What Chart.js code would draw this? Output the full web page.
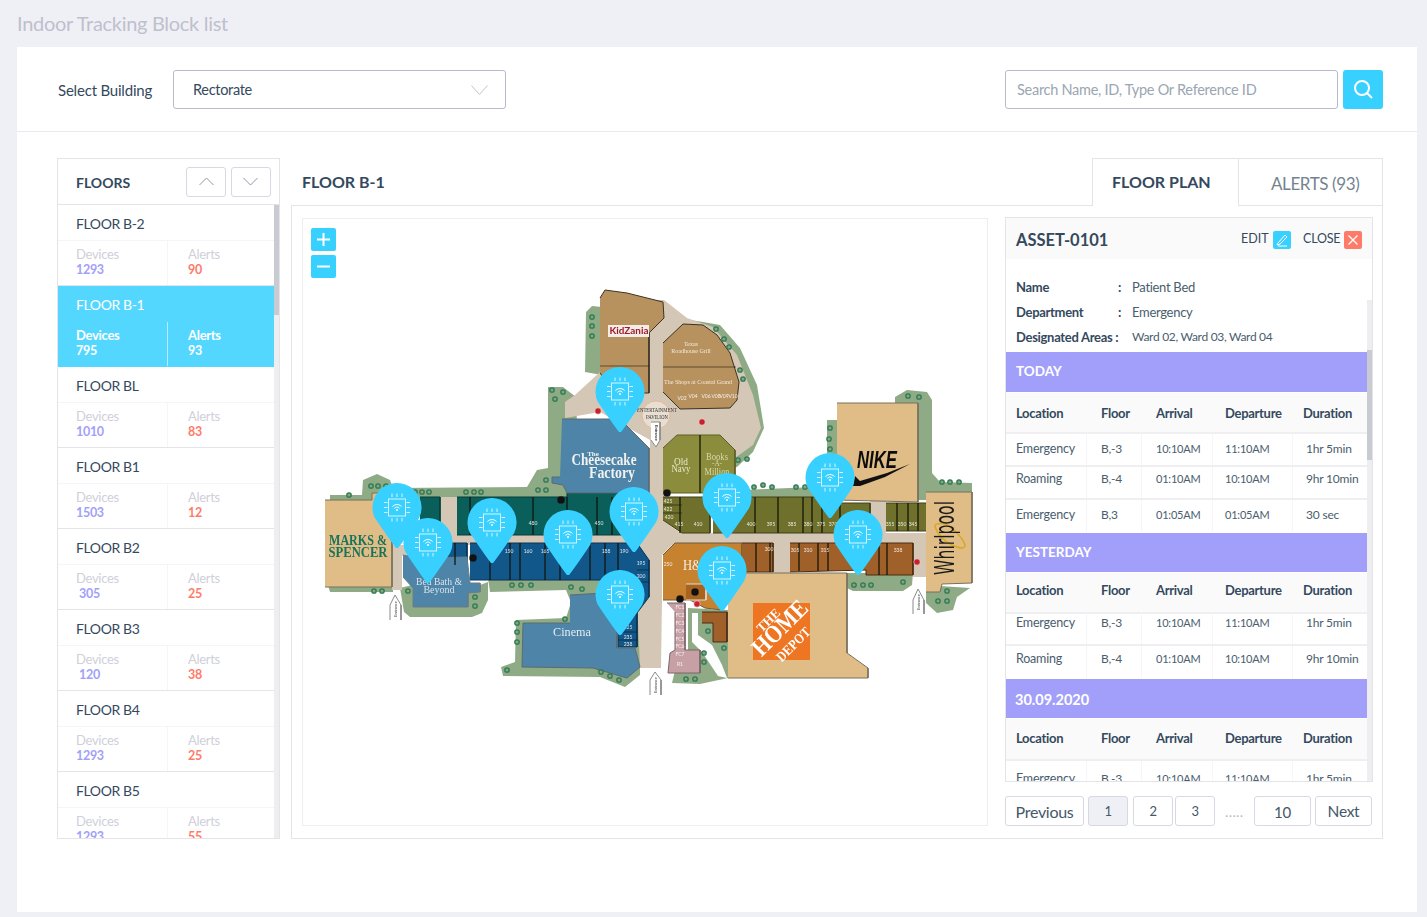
<!DOCTYPE html>
<html><head><meta charset="utf-8">
<script src="https://cdn.jsdelivr.net/npm/chart.js@4"></script>
<style>
html,body{margin:0;padding:0;width:1427px;height:917px;overflow:hidden;background:#eff0f5;font-family:Lato,"Noto Sans",sans-serif;color:#34495e}
.b{position:absolute;box-sizing:border-box}
.t{position:absolute;white-space:nowrap;transform:translateY(-50%);line-height:1}
#clipL,#clipR{position:absolute;overflow:hidden}
svg{position:absolute;overflow:visible}
canvas{filter:blur(.3px)}
</style></head><body>
<div id="root"></div>
<script>
/* ---------- page content ---------- */
const floorNames=["FLOOR B-2","FLOOR B-1","FLOOR BL","FLOOR B1","FLOOR B2","FLOOR B3","FLOOR B4","FLOOR B5"];
const floorDevices=[1293,795,1010,1503,305,120,1293,1293];
const floorAlerts=[90,93,83,12,25,38,25,55];
const tableHead=["Location","Floor","Arrival","Departure","Duration"];
const todayRows=[["Emergency","B,-3","10:10AM","11:10AM","1hr 5min"],["Roaming","B,-4","01:10AM","10:10AM","9hr 10min"],["Emergency","B,3","01:05AM","01:05AM","30 sec"]];
const yesterdayRows=[["Emergency","B,-3","10:10AM","11:10AM","1hr 5min"],["Roaming","B,-4","01:10AM","10:10AM","9hr 10min"]];
const olderRows=[["Emergency","B,-3","10:10AM","11:10AM","1hr 5min"]];

/* ---------- map: pins, trees, markers ---------- */
const pinTipX=[620,397,428,492,568,634,620,727,830,858,722];
const pinTipY=[432,548,583,563,575,552,635,538,518,575,611];
const treeX=[349,371,378,386,415,422,429,466,474,481,546,538,546,552,563,555,592,592,592,374,382,408,475,475,512,521,531,571,582,565,517,517,517,507,601,610,619,908,919,830,829,830,942,950,959,738,747,754,763,772,796,805,947,938,947,854,863,871,903,708,724,704,704,686,695,716,724,729,740,743];
const treeY=[495,486,486,486,492,492,492,492,492,492,480,490,490,390,392,399,317,326,336,591,591,591,597,606,585,585,585,587,589,619,623,632,642,670,672,676,680,396,397,428,439,449,482,482,482,460,459,487,485,487,487,487,591,601,601,585,585,585,582,631,648,653,662,679,679,329,339,347,370,379];
const redX=[598,702,917,697];
const redY=[411,422,562,604];
const blackX=[667,680,561,473,695];
const blackY=[493,599,500,558,592];
const plazaX=[656];
const plazaY=[415];

/* ---------- map: regions, painted first to last ---------- */
const TAN='#d5c7b5',GRN='#8fab85',SAND='#e0bc86',BLUE='#4d84a8',OLV='#6e702c',BRN='#a0602a',EDGE='#77705f';
const greenLeft=[[330,495],[362,495],[363,480],[377,474],[390,480],[393,488],[527,487],[537,470],[548,468],[548,387],[563,387],[576,397],[580,505],[330,505]];
const greenMarks=[[328,585],[393,585],[393,592],[330,592]];
const greenKid=[[585,372],[586,312],[592,306],[602,307],[602,375]];
const greenCrescent=[[690,320],[703,322],[720,325],[740,348],[757,385],[764,428],[753,452],[737,467],[715,470],[690,440]];
const greenBed=[[400,588],[412,585],[480,585],[488,582],[488,600],[482,613],[472,617],[410,617],[404,612]];
const greenUnder=[[488,578],[640,578],[640,600],[600,610],[570,600],[566,590],[490,592]];
const greenCinema=[[575,590],[640,590],[640,675],[625,687],[600,677],[503,676],[501,667],[515,662],[516,620],[566,618]];
const greenNikeL=[[827,420],[838,420],[838,458],[827,458]];
const greenTop=[[742,490],[837,486],[930,490],[930,500],[742,500]];
const greenNikeR=[[895,397],[907,390],[927,392],[932,400],[932,473],[940,482],[972,483],[972,494],[895,494]];
const greenWhirl=[[926,590],[940,586],[970,588],[957,597],[953,610],[937,613],[926,603]];
const greenBrown=[[847,573],[913,573],[912,585],[903,591],[853,591],[847,588]];
const greenDepot=[[688,608],[728,610],[728,678],[700,684],[672,683],[680,650],[688,650]];
const whiteRoad=[[692,613],[698,613],[698,635],[712,645],[722,665],[727,678],[718,676],[702,652],[692,642]];
const tanMain=[[565,402],[575,395],[600,372],[600,300],[664,300],[687,318],[713,327],[737,355],[753,395],[761,428],[753,445],[735,458],[722,468],[666,468],[663,520],[680,533],[926,533],[926,577],[913,577],[913,545],[672,545],[662,555],[662,600],[661,668],[640,668],[637,600],[635,545],[392,545],[392,590],[402,590],[402,556],[440,545],[440,497],[457,497],[457,534],[620,534],[650,520],[650,440],[600,412],[565,418]];
const tanGap=[[870,497],[886,497],[886,534],[870,534]];
const tanGapB=[[773,544],[790,544],[790,576],[773,576]];
const marks=[[325,500],[372,500],[372,493],[392,493],[392,587],[325,587]];
const tealA=[[420,497],[440,497],[440,535],[420,535]];
const tealB=[[457,497],[567,497],[567,493],[640,493],[650,500],[650,520],[635,535],[457,535]];
const blueA=[[443,543],[467,543],[467,565],[443,565]];
const blueB=[[470,543],[637,543],[649,560],[649,597],[637,613],[637,647],[618,647],[618,580],[470,580]];
const cheesecake=[[562,419],[620,419],[649,448],[649,493],[567,493],[563,485],[552,483],[552,477],[560,477]];
const bedBath=[[403,555],[423,558],[467,557],[470,583],[480,583],[480,592],[468,593],[468,607],[413,607],[413,588],[403,577]];
const cinema=[[570,595],[620,592],[617,632],[617,648],[635,648],[640,667],[627,678],[593,668],[522,667],[523,623],[570,623]];
const kidzania=[[600,298],[605,290],[627,293],[663,302],[664,318],[649,333],[649,393],[615,393],[600,373]];
const shops=[[663,343],[683,324],[703,325],[717,335],[730,353],[739,382],[737,400],[730,408],[680,409],[663,392]];
const navy=[[663,448],[677,435],[720,435],[735,450],[735,493],[663,493]];
const oliveA=[[663,497],[710,497],[710,533],[682,533],[663,520]];
const oliveB=[[713,497],[840,497],[840,503],[870,503],[870,533],[713,533]];
const oliveC=[[886,503],[927,503],[927,531],[886,531]];
const hm=[[663,555],[675,543],[742,543],[742,572],[730,572],[722,610],[705,608],[690,600],[663,600]];
const brownA=[[742,543],[773,543],[773,572],[742,572]];
const brownB=[[790,543],[913,543],[913,575],[866,575],[866,570],[790,572]];
const brownC=[[702,612],[727,612],[727,642],[713,642],[713,623],[702,623]];
const pinkFood=[[667,603],[685,603],[685,650],[700,650],[700,673],[668,673],[670,653],[675,650],[675,612]];
const depot=[[728,573],[847,573],[847,653],[868,668],[868,678],[728,678]];
const depotLogo=[[753,603],[810,603],[810,660],[753,660]];
const nikeStore=[[837,403],[918,403],[918,502],[837,500]];
const whirl=[[926,492],[972,492],[972,583],[942,584],[940,592],[926,592]];
const kidSign=[[608,325],[649,325],[649,337],[608,337]];
const swoosh=[[855,476],[860,481],[887,473],[910,464],[885,477],[860,486],[853,486]];
const arrowA=[[390,620],[390,605],[395,595],[401,605],[401,620]];
const arrowB=[[913,614],[913,600],[918,589],[924,600],[924,614]];
const arrowC=[[650,695],[650,680],[655,672],[661,680],[661,695]];
const arrowD=[[651,422],[660,422],[660,440],[656,447],[651,440]];
const roomBox=[[686,584],[706,584],[706,600],[686,600]];
const regions=[
 [greenLeft,GRN],[greenMarks,GRN],[greenKid,GRN],[greenCrescent,GRN],[greenBed,GRN],[greenUnder,GRN],[greenCinema,GRN],[greenNikeL,GRN],[greenTop,GRN],[greenNikeR,GRN],[greenWhirl,GRN],[greenBrown,GRN],[greenDepot,GRN],
 [whiteRoad,'#ffffff'],[tanMain,TAN],[tanGap,TAN],[tanGapB,TAN],
 [marks,SAND,EDGE],[tealA,'#0b5f5b','#053f3c'],[tealB,'#0b5f5b','#053f3c'],[blueA,'#12578a','#0a3350'],[blueB,'#12578a','#0a3350'],
 [cheesecake,BLUE,'#5d6a70'],[bedBath,BLUE,'#6b7d85'],[cinema,BLUE,'#5d6a70'],
 [kidzania,'#b8925e','#3a3226'],[shops,'#b8925e','#3a3226'],[navy,'#8b8d3c','#5c5e27'],[oliveA,OLV,'#3e3f18'],[oliveB,OLV,'#3e3f18'],[oliveC,OLV,'#3e3f18'],
 [hm,'#c6822e','#6e5a3c'],[brownA,BRN,'#4a2d12'],[brownB,BRN,'#4a2d12'],[brownC,BRN,'#4a2d12'],[pinkFood,'#c7a0a6','#7d6468'],
 [depot,SAND,EDGE],[depotLogo,'#ee7623'],[nikeStore,SAND,EDGE],[whirl,SAND,EDGE],[kidSign,'#f4ece6'],[swoosh,'#111111'],
 [arrowA,'#ffffff','#8a8a8a'],[arrowB,'#ffffff','#8a8a8a'],[arrowC,'#ffffff','#8a8a8a'],[arrowD,'#ffffff','#8a8a8a'],[roomBox,'#a8641f','#dcdcdc']
];
/* store partition lines: x, yTop, yBottom */
const dividerX=[700,470,533,567,597,612,622,455,490,510,520,545,560,590,605,618,640,755,778,803,812,822,840,897,908,918,799,818,828,879,887,680,756,770];
const dividerTop=[435,497,497,497,497,497,497,543,543,543,543,543,543,543,543,543,497,497,497,497,497,497,497,503,503,503,543,543,543,543,543,497,543,543];
const dividerBottom=[493,535,535,535,535,535,520,565,580,580,580,580,580,580,580,580,520,533,533,533,533,533,533,531,531,531,571,571,571,575,575,533,572,572];
const shelfLines=[[[600,366],[649,366]],[[663,367],[736,367]],[[663,505],[682,505]],[[663,513],[682,513]],[[637,570],[649,570]],[[637,582],[649,582]],[[618,632],[637,632]],[[618,640],[637,640]]];
const whirlpoolRing=[[936,524],[945,524],[957,533],[965,545],[962,548],[952,545],[941,537],[935,527],[936,524]];

/* tiny unit numbers */
const unitText=["480","450","150","160","165","188","190","195","200","225","235","238","425","422","420","415","410","400","395","385","380","375","370","355","350","345","250","300","305","310","315","338","FC1","FC2","FC3","FC4","FC5","FC6","FC7","R1","V02","V04","V06","V08","V09","V10"];
const unitX=[533,599,509,528,545,606,624,641,641,628,628,628,668,668,669,679,698,751,771,792,808,821,833,890,902,913,668,769,795,808,825,898,680,680,680,680,680,680,680,680,682,693,706,716,724,733];
const unitY=[523,523,551,551,551,551,551,563,576,627,637,644,501,509,517,524,524,524,524,524,524,524,524,524,524,524,564,549,550,550,550,550,607,615,623,631,639,646,654,664,398,396,396,396,396,396];

/* ---------- DOM helpers ---------- */
const root=document.getElementById('root');
function box(x,y,w,h,css,parent){const d=document.createElement('div');d.className='b';d.style.cssText=`left:${x}px;top:${y}px;width:${w}px;height:${h}px;${css||''}`;(parent||root).appendChild(d);return d}
function txt(s,x,y,size,css,parent){const d=document.createElement('div');d.className='t';d.textContent=s;d.style.cssText=`left:${x}px;top:${y}px;font-size:${size}px;${css||''}`;(parent||root).appendChild(d);return d}
function svg(x,y,w,h,inner,parent){const n=document.createElementNS('http://www.w3.org/2000/svg','svg');n.setAttribute('width',w);n.setAttribute('height',h);n.setAttribute('viewBox',`0 0 ${w} ${h}`);n.style.left=x+'px';n.style.top=y+'px';n.innerHTML=inner;(parent||root).appendChild(n)}
const DK='#34495e',BD='#e3e3e8',CY='#38d0ff',PU='#a29ffa',ST='letter-spacing:-.3px;';

txt('Indoor Tracking Block list',17,22.5,20,'color:#bfbfce;'+ST);
box(17,47,1400,865,'background:#fff');
box(17,131,1400,1,'background:#e8e8ee');
txt('Select Building',58,89.5,15,'color:'+DK+';letter-spacing:-.2px;');
box(173,70,333,39,'border:1px solid #b9b9cd;border-radius:3px;background:#fff');
txt('Rectorate',193,90,14.5,'color:'+DK+';'+ST);
svg(471,85,17,11,'<path d="M.5 .5L8.5 9.5L16.5 .5" fill="none" stroke="#c4c4d0" stroke-width="1"/>');
box(1005,70,333,39,'border:1px solid #b9b9cd;border-radius:3px;background:#fff');
txt('Search Name, ID, Type Or Reference ID',1017,90,14.5,'color:#9aa6b2;letter-spacing:-.27px;');
box(1343,70,40,39,'background:'+CY+';border-radius:3px');
svg(1353,79,21,21,'<circle cx="9" cy="9" r="7" fill="none" stroke="#fff" stroke-width="2"/><path d="M14 14L19 19" stroke="#fff" stroke-width="2"/>');

/* floors panel */
box(57,158,223,681,'border:1px solid '+BD+';background:#fff');
box(58,204,222,1,'background:'+BD);
txt('FLOORS',76,183,14,'font-weight:700;color:'+DK+';');
box(186,167,40,30,'border:1px solid #d8d8e2;border-radius:3px');
box(231,167,40,30,'border:1px solid #d8d8e2;border-radius:3px');
svg(199,177,15,9,'<path d="M.5 8L7.5 1L14.5 8" fill="none" stroke="#8c98a4" stroke-width="1"/>');
svg(243,177,15,9,'<path d="M.5 1L7.5 8L14.5 1" fill="none" stroke="#8c98a4" stroke-width="1"/>');
const clipL=document.createElement('div');clipL.id='clipL';clipL.style.cssText='left:58px;top:205px;width:216px;height:633px';root.appendChild(clipL);
floorNames.forEach((n,i)=>{
  const top=81*i, on=i===1;
  const xv=(floorDevices[i]===305||floorDevices[i]===120)?21:18;
  if(on) box(0,top,216,81,'background:#54d7ff',clipL);
  txt(n,18,top+19,14,'color:'+(on?'#fff':DK)+';letter-spacing:-.4px;',clipL);
  if(!on) box(0,top+35,216,1,'background:#f5f5f8',clipL);
  box(109,top+36,1,45,'background:'+(on?'#b5edff':'#f5f5f8'),clipL);
  txt('Devices',18,top+49,13,'color:'+(on?'#fff':'#cfd0da')+';'+(on?'font-weight:700;':'')+ST,clipL);
  txt('Alerts',130,top+49,13,'color:'+(on?'#fff':'#cfd0da')+';'+(on?'font-weight:700;':'')+ST,clipL);
  txt(String(floorDevices[i]),xv,top+64.5,12.5,'font-weight:700;color:'+(on?'#fff':PU)+';'+ST,clipL);
  txt(String(floorAlerts[i]),130,top+64.5,12.5,'font-weight:700;color:'+(on?'#fff':'#ff7b69')+';'+ST,clipL);
  box(0,top+80,216,1,'background:'+(on?'#54d7ff':BD),clipL);
});
box(274,205,5,633,'background:#eeeef0');
box(274,205,5,110,'background:#c8cbd2');

/* main panel */
txt('FLOOR B-1',302,182,16,'font-weight:700;color:'+DK+';');
box(291,205,1092,634,'border:1px solid '+BD+';background:#fff');
box(1092,158,147,48,'border:1px solid '+BD+';border-bottom:none;background:#fff');
box(1238,158,145,48,'border:1px solid '+BD+';background:#fff');
txt('FLOOR PLAN',1112,182,16,'font-weight:700;color:'+DK+';');
txt('ALERTS (93)',1271,183,17,'color:#74838f;letter-spacing:-.4px;');
box(302,218,686,608,'border:1px solid #eeeef1');

/* right panel */
box(1005,217,368,565,'border:1px solid '+BD+';background:#fff');
box(1006,218,366,41,'background:#fafafa');
txt('ASSET-0101',1016,239.5,16.5,'font-weight:700;color:'+DK+';');
txt('EDIT',1241,239,12.5,'color:'+DK+';');
box(1273,231,18,18,'background:'+CY+';border-radius:2px');
svg(1275,233,14,14,'<path d="M3 10L10 2L12 4L5 11L2 12Z M3 13H12" fill="none" stroke="#fff" stroke-width="1"/>');
txt('CLOSE',1303,239,12.5,'color:'+DK+';letter-spacing:-.2px;');
box(1344,231,18,18,'background:#ff7b69;border-radius:2px');
svg(1348,235,10,10,'<path d="M.5 .5L9.5 9.5M9.5 .5L.5 9.5" stroke="#fff" stroke-width="1.3"/>');
[['Name','Patient Bed',286.5],['Department','Emergency',312]].forEach(r=>{
  txt(r[0],1016,r[2],13,'font-weight:700;color:'+DK+';'+ST);
  txt(':',1118,r[2],13,'font-weight:700;color:'+DK+';');
  txt(r[1],1132,r[2],13,'color:#4a5d6e;'+ST);
});
txt('Designated Areas :',1016,337,13,'font-weight:700;color:'+DK+';'+ST);
txt('Ward 02, Ward 03, Ward 04',1132,337,12,'color:#4a5d6e;'+ST);
box(1367,300,5,481,'background:#eeeef0');
box(1367,350,5,110,'background:#c8cbd2');
const clipR=document.createElement('div');clipR.id='clipR';clipR.style.cssText='left:1006px;top:350px;width:361px;height:431px';root.appendChild(clipR);
const O=[1006,350], colH=[1016,1101,1156,1225,1303], colB=[1016,1101,1156,1225,1306], colV=[1086,1141,1212,1292], cellSize=[12.5,12,11,11,12], cellNudge=[0,0,-1,-1,0];
function bar(label,y0,y1,tx,ty,sz){box(0,y0-O[1],361,y1-y0,'background:'+PU,clipR);txt(label,tx-O[0],ty-O[1],sz,'font-weight:700;color:#fff;',clipR)}
function head(y0,y1,ty){box(0,y0-O[1],361,y1-y0,'background:#fafafa',clipR);box(0,y1-O[1],361,2,'background:#efeff2',clipR);tableHead.forEach((h,i)=>txt(h,colH[i]-O[0],ty-O[1],13,'font-weight:700;color:'+DK+';'+ST,clipR))}
function rows(data,ys,lines){data.forEach((r,j)=>r.forEach((c,i)=>txt(c,colB[i]-O[0],ys[j]-O[1]+cellNudge[i],cellSize[i],'color:#4a5d6e;letter-spacing:-.2px;',clipR)));lines.forEach(l=>box(0,l-O[1],361,2,'background:#efeff2',clipR));}
function vlines(y0,y1){colV.forEach(x=>box(x-O[0],y0-O[1],1,y1-y0,'background:#f6f6f8',clipR))}
bar('TODAY',352,392,1016,372,13.5);head(393,432,413);vlines(433,532);rows(todayRows,[449,479,515],[465,498]);
bar('YESTERDAY',533,572,1016,553,13.5);head(573,612,590);vlines(613,678);rows(yesterdayRows,[623,659],[644]);
bar('30.09.2020',679,718,1015,700,14.5);head(719,759,738);vlines(761,781);rows(olderRows,[779],[]);

/* pagination */
[['Previous',1005,79,16],['1',1088,40,13,'#eff0f5'],['2',1133,40,13],['3',1175,40,13],['10',1254,57,15],['Next',1315,57,15.5]].forEach(p=>{
  box(p[1],796,p[2],30,'border:1px solid #d8d8e2;border-radius:3px;background:'+(p[4]||'#fff'));
  const t=txt(p[0],p[1]+p[2]/2,p[3]===13?810.5:811.5,p[3],'color:#44586a;'+ST);t.style.transform='translate(-50%,-50%)';
});
txt('.....',1225,812,14,'color:#b5b8c4;letter-spacing:.4px;');

/* zoom controls */
box(311,228,25,23,'background:'+CY+';border-radius:2px');
svg(316,232,15,15,'<path d="M7.5 1V14M1 7.5H14" stroke="#fff" stroke-width="2"/>');
box(311,255,25,23,'background:'+CY+';border-radius:2px');
svg(316,259,15,15,'<path d="M1 7.5H14" stroke="#fff" stroke-width="2"/>');

/* ---------- chart ---------- */
const holder=box(303,219,684,606,'');
const cv=document.createElement('canvas');holder.appendChild(cv);

function pinImage(){
  const c=document.createElement('canvas');c.width=50;c.height=130;
  const g=c.getContext('2d'),cx=25,cy=24.5,r=24.5,tipY=65;
  g.fillStyle='#38d0ff';g.beginPath();
  g.arc(cx,cy,r,Math.PI*0.86,Math.PI*0.14,false);
  g.quadraticCurveTo(cx+8,tipY-9,cx+1.5,tipY-0.6);
  g.quadraticCurveTo(cx,tipY+.4,cx-1.5,tipY-0.6);
  g.quadraticCurveTo(cx-8,tipY-9,cx-r*0.9,cy+r*0.43);
  g.closePath();g.fill();
  g.strokeStyle='rgba(255,255,255,.8)';g.lineWidth=1;
  g.strokeRect(cx-8.5,cy-8.5,17,17);
  g.lineWidth=1;
  [-5,0,5].forEach(o=>{
    g.beginPath();g.moveTo(cx+o,cy-14);g.lineTo(cx+o,cy-10.5);g.moveTo(cx+o,cy+10.5);g.lineTo(cx+o,cy+14);
    g.moveTo(cx-13,cy+o);g.lineTo(cx-9.5,cy+o);g.moveTo(cx+9.5,cy+o);g.lineTo(cx+13,cy+o);g.stroke();
  });
  g.strokeStyle='#fff';
  g.beginPath();g.arc(cx,cy+3,6,Math.PI*1.22,Math.PI*1.78);g.stroke();
  g.beginPath();g.arc(cx,cy+3,3.4,Math.PI*1.22,Math.PI*1.78);g.stroke();
  g.fillStyle='#fff';g.beginPath();g.arc(cx,cy+2.5,1,0,7);g.fill();
  return c;
}
const SERIF='"Liberation Serif",serif';
const brandLabels=[
 ['MARKS &',358,541,'bold 15px '+SERIF,'#17735a',58,0],['SPENCER',358,553,'bold 15px '+SERIF,'#17735a',59,0],
 ['The',593,454,'bold 7px '+SERIF,'#f2f2f2',12,0],['Cheesecake',604,461,'bold 16px '+SERIF,'#f2f2f2',65,0],['Factory',612,474,'bold 16px '+SERIF,'#f2f2f2',46,0],
 ['Bed Bath &',439,582,'10px '+SERIF,'#d8e2ea',46,0],['Beyond',439,590,'10px '+SERIF,'#d8e2ea',32,0],
 ['Cinema',572,633,'13px '+SERIF,'#e3ecf2',38,0],
 ['KidZania',629,331,'bold 10px Lato','#a01c2c',39,0],
 ['Texas',691,344,'6px '+SERIF,'#f3ead9',20,0],['Roadhouse Grill',691,351,'6px '+SERIF,'#f3ead9',40,0],['The Shops at Coastal Grand',698,382,'6.5px '+SERIF,'#f3ead9',68,0],
 ['ENTERTAINMENT',657,411,'5.5px '+SERIF,'#333',40,0],['PAVILION',657,418,'5.5px '+SERIF,'#333',22,0],
 ['Old',681,462,'9.5px '+SERIF,'#e8e6c8',14,0],['Navy',681,469,'9.5px '+SERIF,'#e8e6c8',19,0],
 ['Books',717,457,'9.5px '+SERIF,'#d9d7a8',22,0],['-A-',717,464,'8px '+SERIF,'#d9d7a8',10,0],['Million',717,472,'9.5px '+SERIF,'#d9d7a8',25,0],
 ['H&M',698,566,'15px '+SERIF,'#f6efe2',30,0],
 ['NIKE',877,461,'italic bold 24px "Liberation Sans"','#0c0c0c',40,0],
 ['Whirlpool',947,538,'26px "DejaVu Sans Condensed","Liberation Sans"','#1a1a1a',74,-90],
 ['THE',769,621,'bold 13px '+SERIF,'#fff',28,-45],['HOME',781,629,'bold 25px '+SERIF,'#fff',68,-45],['DEPOT',794,645,'bold 14px '+SERIF,'#fff',42,-45],
 ['Entrance',396,609,'4px Lato','#444',20,-90],['Entrance',919,602,'4px Lato','#444',20,-90],['Entrance',656,685,'4px Lato','#444',20,-90],['Entrance',656,433,'bold 4px Lato','#222',20,90]
];
const labelPlugin={id:'mapLabels',afterDatasetDraw(chart,args){
  if(chart.data.datasets[args.index].label!=='trees')return;
  const c=chart.ctx,sx=chart.scales.x,sy=chart.scales.y;
  c.save();c.textAlign='center';c.textBaseline='middle';
  c.font='5px Lato';c.fillStyle='rgba(255,255,255,.85)';
  unitText.forEach((t,i)=>c.fillText(t,sx.getPixelForValue(unitX[i]),sy.getPixelForValue(unitY[i])));
  brandLabels.forEach(l=>{
    c.save();c.translate(sx.getPixelForValue(l[1]),sy.getPixelForValue(l[2]));c.rotate(l[6]*Math.PI/180);
    c.font=l[3];c.fillStyle=l[4];c.fillText(l[0],0,0,l[5]);c.restore();
  });
  c.restore();
}};
const pts=a=>a.map(p=>({x:p[0],y:p[1]}));
const xy=(xs,ys)=>xs.map((x,i)=>({x,y:ys[i]}));
const n=regions.length;
const datasets=regions.map((r,i)=>({label:'r'+i,data:pts(r[0]),showLine:true,fill:'shape',backgroundColor:r[1],borderColor:r[2]||r[1],borderWidth:r[2]?1:0,pointRadius:0,tension:0,order:n+10-i}));
const arrowIdx=regions.findIndex(r=>r[0]===arrowA);
datasets.push({label:'plaza',data:xy(plazaX,plazaY),backgroundColor:'rgba(240,232,222,.7)',borderColor:'#e6b89c',borderWidth:1,pointRadius:14,order:n+10-arrowIdx+.5});
const seg=[];dividerX.forEach((x,i)=>{seg.push({x,y:dividerTop[i]},{x,y:dividerBottom[i]},{x:null,y:null})});
shelfLines.forEach(l=>{seg.push(...pts(l),{x:null,y:null})});
datasets.push({label:'dividers',data:seg,showLine:true,spanGaps:false,fill:false,borderColor:'rgba(20,20,10,.55)',borderWidth:1,pointRadius:0,order:9});
datasets.push({label:'ring',data:pts(whirlpoolRing),showLine:true,fill:false,borderColor:'#dba91f',borderWidth:1.6,pointRadius:0,tension:.4,order:8});
datasets.push({label:'red',data:xy(redX,redY),backgroundColor:'#c8202c',borderColor:'#fff',borderWidth:.5,pointRadius:3.2,order:7});
datasets.push({label:'black',data:xy(blackX,blackY),pointStyle:'rectRounded',backgroundColor:'#111',borderColor:'#111',pointRadius:3.6,order:6});
datasets.push({label:'trees',data:xy(treeX,treeY),backgroundColor:'#86a57d',borderColor:'#2b7a55',borderWidth:1.3,pointRadius:2.2,order:5});
const pinImg=pinImage();
datasets.push({label:'pins',data:xy(pinTipX,pinTipY),pointStyle:pinImg,pointRadius:25,order:1});

new Chart(cv,{type:'scatter',data:{datasets},plugins:[labelPlugin],options:{
  responsive:true,maintainAspectRatio:false,animation:false,events:[],
  layout:{padding:0,autoPadding:false},
  plugins:{legend:{display:false},tooltip:{enabled:false},filler:{propagate:false}},
  scales:{x:{type:'linear',min:303,max:987,display:false},y:{type:'linear',min:219,max:825,reverse:true,display:false}}
}});
</script>
</body></html>
